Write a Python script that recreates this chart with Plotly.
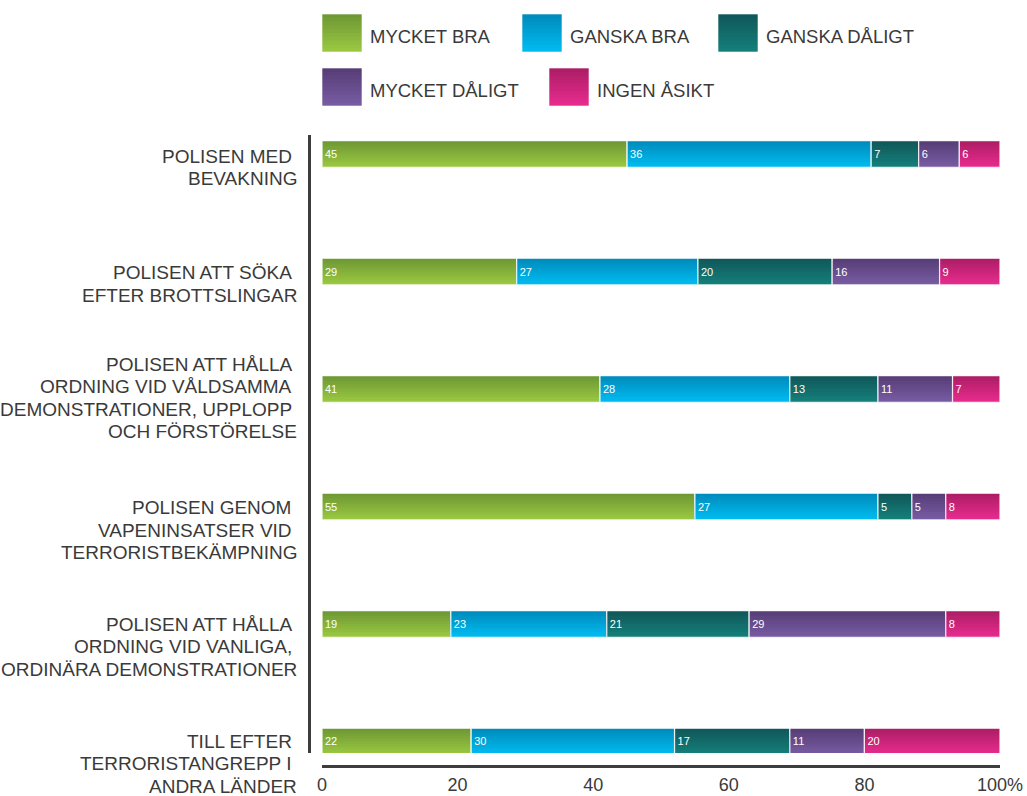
import plotly.graph_objects as go

# ---------------- data ----------------
categories = [
    "POLISEN MED<br>BEVAKNING",
    "POLISEN ATT SÖKA<br>EFTER BROTTSLINGAR",
    "POLISEN ATT HÅLLA<br>ORDNING VID VÅLDSAMMA<br>DEMONSTRATIONER, UPPLOPP<br>OCH FÖRSTÖRELSE",
    "POLISEN GENOM<br>VAPENINSATSER VID<br>TERRORISTBEKÄMPNING",
    "POLISEN ATT HÅLLA<br>ORDNING VID VANLIGA,<br>ORDINÄRA DEMONSTRATIONER",
    "TILL EFTER<br>TERRORISTANGREPP I<br>ANDRA LÄNDER",
]
series_names = ["MYCKET BRA", "GANSKA BRA", "GANSKA DÅLIGT", "MYCKET DÅLIGT", "INGEN ÅSIKT"]
mycket_bra = [45, 29, 41, 55, 19, 22]
ganska_bra = [36, 27, 28, 27, 23, 30]
ganska_daligt = [7, 20, 13, 5, 21, 17]
mycket_daligt = [6, 16, 11, 5, 29, 11]
ingen_asikt = [6, 9, 7, 8, 8, 20]
x_tick_vals = [0, 20, 40, 60, 80, 100]
x_tick_labels = ["0", "20", "40", "60", "80", "100%"]

# ---------------- styles ----------------
series_values = [mycket_bra, ganska_bra, ganska_daligt, mycket_daligt, ingen_asikt]
grad_colors = [  # (top, bottom)
    ("#6E9935", "#9AC740"),
    ("#008CBD", "#00BAEF"),
    ("#11585A", "#147F7A"),
    ("#573E77", "#775BA2"),
    ("#AE1E67", "#E62B8D"),
]
TEXT = "#3a3a3a"
FONT = "Liberation Sans, Arial, sans-serif"
W, H = 1027, 796
PLOT_L, PLOT_R, PLOT_T, PLOT_B = 309, 1000, 135, 766   # screen pixels
ML, MT = PLOT_L, PLOT_T
MR, MB = W - PLOT_R, H - PLOT_B
PW, PH = W - ML - MR, H - MT - MB
BAR_W = 0.227
N_STRIPS = 10


def hex2rgb(h):
    h = h.lstrip("#")
    return tuple(int(h[i:i + 2], 16) for i in (0, 2, 4))


def mix(c1, c2, t):
    a, b = hex2rgb(c1), hex2rgb(c2)
    return "rgb(%d,%d,%d)" % tuple(round(a[i] + (b[i] - a[i]) * t) for i in range(3))


def px_x(px):
    return (px - PLOT_L) / PW


def px_y(py):
    return (PLOT_B - py) / PH


# normalise each row to 100 %
totals = [sum(v[i] for v in series_values) for i in range(len(categories))]
pcts = [[v[i] / totals[i] * 100 for i in range(len(categories))] for v in series_values]

fig = go.Figure()
cum = [0.0] * len(categories)
for name, vals, pv, (ctop, cbot) in zip(series_names, series_values, pcts, grad_colors):
    base = list(cum)
    for k in range(N_STRIPS):
        t = k / (N_STRIPS - 1)
        fig.add_trace(go.Bar(
            y=categories, x=pv, base=base, orientation="h",
            offset=-BAR_W / 2 + k * BAR_W / N_STRIPS,
            width=BAR_W - k * BAR_W / N_STRIPS,
            marker=dict(color=mix(ctop, cbot, t), line=dict(width=0)),
            showlegend=False, hoverinfo="skip",
        ))
    fig.add_trace(go.Bar(
        y=categories, x=pv, base=base, orientation="h",
        width=BAR_W, name=name,
        marker=dict(color="rgba(0,0,0,0)", line=dict(color="rgba(255,255,255,0.9)", width=1.2)),
        text=[str(v) for v in vals], textposition="inside", insidetextanchor="start",
        textfont=dict(color="white", size=11, family=FONT),
        constraintext="none", showlegend=False,
        hovertemplate="%{y}<br>" + name + ": %{text}<extra></extra>",
    ))
    cum = [cum[i] + pv[i] for i in range(len(categories))]

# ---------------- category labels (per line) ----------------
first_line_shift = [2, 1, -25, 1, 0, 0]
LINE = 22.5
annotations = []
for i, cat in enumerate(categories):
    lines = cat.split("<br>")
    for j, ln in enumerate(lines):
        txt = ln + ("\u00a0" if j < len(lines) - 1 else "")
        annotations.append(dict(
            x=px_x(299), xref="paper", xanchor="right",
            y=cat, yref="y", yanchor="middle",
            yshift=-(first_line_shift[i] + j * LINE),
            text=txt, showarrow=False, align="right",
            font=dict(family=FONT, size=19, color=TEXT),
        ))

# ---------------- custom legend ----------------
legend_boxes = [(322, 14), (522, 14), (718, 14), (322, 68), (549, 68)]
BOX_W, BOX_H = 40, 38
shapes = []
for name, (ctop, cbot), (bx, by) in zip(series_names, grad_colors, legend_boxes):
    for k in range(N_STRIPS):
        t = k / (N_STRIPS - 1)
        shapes.append(dict(
            type="rect", xref="paper", yref="paper",
            x0=px_x(bx), x1=px_x(bx + BOX_W),
            y0=px_y(by + BOX_H), y1=px_y(by + k * BOX_H / N_STRIPS),
            fillcolor=mix(ctop, cbot, t), line=dict(width=0), layer="above",
        ))
    shapes.append(dict(
        type="rect", xref="paper", yref="paper",
        x0=px_x(bx), x1=px_x(bx + BOX_W), y0=px_y(by + BOX_H), y1=px_y(by),
        fillcolor="rgba(0,0,0,0)", line=dict(width=1, color="rgba(255,255,255,0.6)"),
        layer="above",
    ))
    annotations.append(dict(
        x=px_x(bx + BOX_W + 6), xref="paper", xanchor="left",
        y=px_y(by + BOX_H / 2 + 3), yref="paper", yanchor="middle",
        text=name, showarrow=False,
        font=dict(family=FONT, size=18.5, color=TEXT),
    ))

fig.update_layout(
    template="none",
    width=W, height=H,
    margin=dict(l=ML, r=MR, t=MT, b=MB, pad=0, autoexpand=False),
    paper_bgcolor="white", plot_bgcolor="white",
    barmode="overlay",
    showlegend=False,
    font=dict(family=FONT, color=TEXT),
    xaxis=dict(
        domain=[px_x(322), 1], range=[0, 100],
        anchor="free", position=0, automargin=False,
        tickmode="array", tickvals=x_tick_vals, ticktext=x_tick_labels,
        showgrid=False, zeroline=False,
        showline=True, linewidth=3, linecolor="#3d3d3d",
        ticks="outside", ticklen=1, tickcolor="rgba(0,0,0,0)",
        tickfont=dict(family=FONT, size=18, color=TEXT),
        fixedrange=True,
    ),
    yaxis=dict(
        domain=[px_y(753), 1],
        anchor="free", position=0, automargin=False,
        type="category", categoryorder="array", categoryarray=categories,
        range=[5.098, -0.162],
        showticklabels=False, showgrid=False, zeroline=False, ticks="",
        showline=True, linewidth=3, linecolor="#3d3d3d",
        fixedrange=True,
    ),
    annotations=annotations,
    shapes=shapes,
)

fig.write_html(
    "out.html",
    config={"displayModeBar": False},
    post_script="document.body.style.margin='0';document.body.style.overflow='hidden';",
)
